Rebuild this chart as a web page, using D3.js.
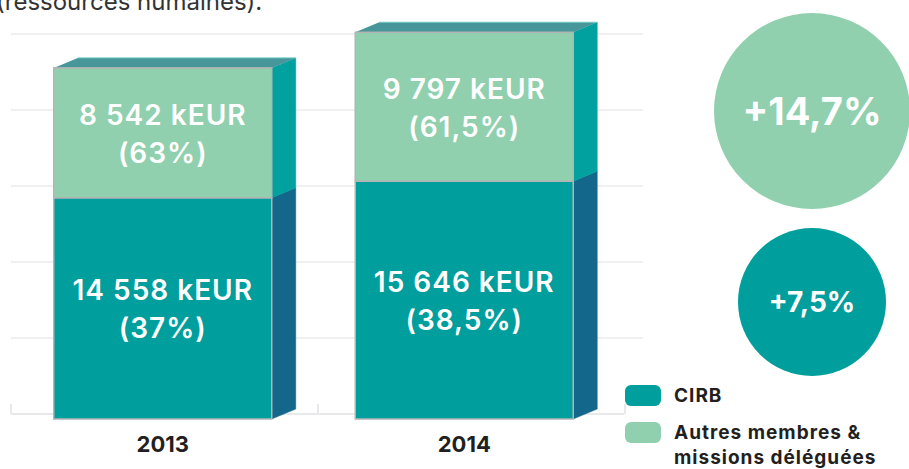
<!DOCTYPE html>
<html><head><meta charset="utf-8">
<script src="https://cdn.jsdelivr.net/npm/d3@7/dist/d3.min.js"></script>
<style>
html,body{margin:0;padding:0;background:#fff;}
svg{display:block;font-family:Inter,"Open Sans",sans-serif;}
</style></head>
<body><svg id="c" width="909" height="469"></svg>
<script>
const years = ["2013", "2014"];
const cirbValues = [14558, 15646];
const autresValues = [8542, 9797];
const cirbPct = ["37%", "38,5%"];
const autresPct = ["63%", "61,5%"];
const growthLabels = ["+14,7%", "+7,5%"];
const growthValues = [14.7, 7.5];
const legendLabels = [["CIRB"], ["Autres membres &", "missions déléguées"]];
const gridTicks = [0, 5000, 10000, 15000, 20000, 25000];

const C = {
  green: "#90d0ae", teal: "#009e9d", tealSide: "#00a19f", darkSide: "#13678a",
  top: "#47979a", grid: "#f0f0f0", text: "#231f20"
};

const svg = d3.select("#c");
const loc = d3.formatLocale({decimal: ",", thousands: " ", grouping: [3], currency: ["", ""]});
const fmt = loc.format(",");

const y = d3.scaleLinear().domain([0, 25000]).range([414, 34]);
const x = d3.scaleBand().domain(years).range([11, 625]).padding(0);
const xBar = d3.scaleBand().domain(years).range([12, 615]).padding(0);
const barW = 218, dx = 24, dy = -10, off = 5;

// top caption (cut at the top edge, as in the source)
svg.append("text").attr("x", -4).attr("y", 10).attr("font-size", 24).attr("fill", "#333")
  .text("(ressources humaines).");

// gridlines
svg.append("g").selectAll("line").data(gridTicks.filter(d => d > 0)).join("line")
  .attr("x1", 11).attr("x2", 643).attr("y1", d => y(d)).attr("y2", d => y(d))
  .attr("stroke", C.grid).attr("stroke-width", 2);
// baseline + ticks
svg.append("line").attr("x1", 11).attr("x2", 624).attr("y1", y(0)).attr("y2", y(0))
  .attr("stroke", "#e9e9ec").attr("stroke-width", 2);
const tickPos = years.map(d => x(d)).concat([x(years[years.length - 1]) + x.bandwidth()]);
svg.append("g").selectAll("line").data(tickPos).join("line")
  .attr("x1", d => d).attr("x2", d => d).attr("y1", y(0)).attr("y2", y(0) - 10)
  .attr("stroke", "#e9e9ec").attr("stroke-width", 2);

const bars = years.map((yr, i) => {
  const cx = xBar(yr) + xBar.bandwidth() / 2;
  return {yr, i, x0: cx - barW / 2, cx,
    segs: [
      {v0: 0, v1: cirbValues[i], val: cirbValues[i], pct: cirbPct[i], front: C.teal, side: C.darkSide},
      {v0: cirbValues[i], v1: cirbValues[i] + autresValues[i], val: autresValues[i], pct: autresPct[i], front: C.green, side: C.tealSide}
    ]};
});

bars.forEach(b => {
  const g = svg.append("g");
  const x0 = b.x0, x1 = b.x0 + barW;
  b.segs.forEach((s, j) => {
    const yt = y(s.v1) + off, yb = y(s.v0) + off;
    g.append("path").attr("d", `M${x1},${yb}L${x1 + dx},${yb + dy}L${x1 + dx},${yt + dy}L${x1},${yt}Z`)
      .attr("fill", s.side).attr("stroke", s.side).attr("stroke-width", 0.5);
    if (j === b.segs.length - 1) {
      g.append("path").attr("d", `M${x0},${yt}L${x0 + dx},${yt + dy}L${x1 + dx},${yt + dy}L${x1},${yt}Z`)
        .attr("fill", C.top);
      g.append("line").attr("x1", x0 + dx).attr("x2", x1 + dx).attr("y1", yt + dy).attr("y2", yt + dy)
        .attr("stroke", "#6cc9c6").attr("stroke-width", 1);
    }
    g.append("rect").attr("x", x0).attr("y", yt).attr("width", barW).attr("height", yb - yt)
      .attr("fill", s.front).attr("stroke", "#b4b4b4").attr("stroke-width", 1.5);
    const my = (yt + yb) / 2;
    const t = g.append("text").attr("text-anchor", "middle").attr("fill", "#fff")
      .attr("font-size", 28).attr("font-weight", 600).attr("letter-spacing", 1);
    t.append("tspan").attr("x", b.cx).attr("y", my - 8).text(fmt(s.val) + " kEUR");
    t.append("tspan").attr("x", b.cx).attr("y", my + 30).text("(" + s.pct + ")");
  });
  svg.append("text").attr("x", b.cx).attr("y", 452).attr("text-anchor", "middle")
    .attr("font-size", 22).attr("font-weight", 700).attr("fill", C.text).text(b.yr);
});

// growth circles
const r = d3.scaleLinear().domain([7.5, 14.7]).range([74, 98]);
const circY = [111, 302], circFill = [C.green, C.teal], circFont = [38, 28];
growthValues.forEach((v, i) => {
  svg.append("circle").attr("cx", 812).attr("cy", circY[i]).attr("r", r(v)).attr("fill", circFill[i]);
  svg.append("text").attr("x", 812).attr("y", circY[i]).attr("dy", "0.36em").attr("text-anchor", "middle")
    .attr("fill", "#fff").attr("font-size", circFont[i]).attr("font-weight", 700).text(growthLabels[i]);
});

// legend
const legColors = [C.teal, C.green];
const legY = [385, 422];
legendLabels.forEach((lines, i) => {
  svg.append("rect").attr("x", 625).attr("y", legY[i]).attr("width", 36).attr("height", 21).attr("rx", 6)
    .attr("fill", legColors[i]);
  const t = svg.append("text").attr("font-size", 19).attr("font-weight", 700).attr("fill", C.text)
    .attr("letter-spacing", 1);
  lines.forEach((l, k) => t.append("tspan").attr("x", 674).attr("y", legY[i] + 17 + k * 25).text(l));
});
</script></body></html>
